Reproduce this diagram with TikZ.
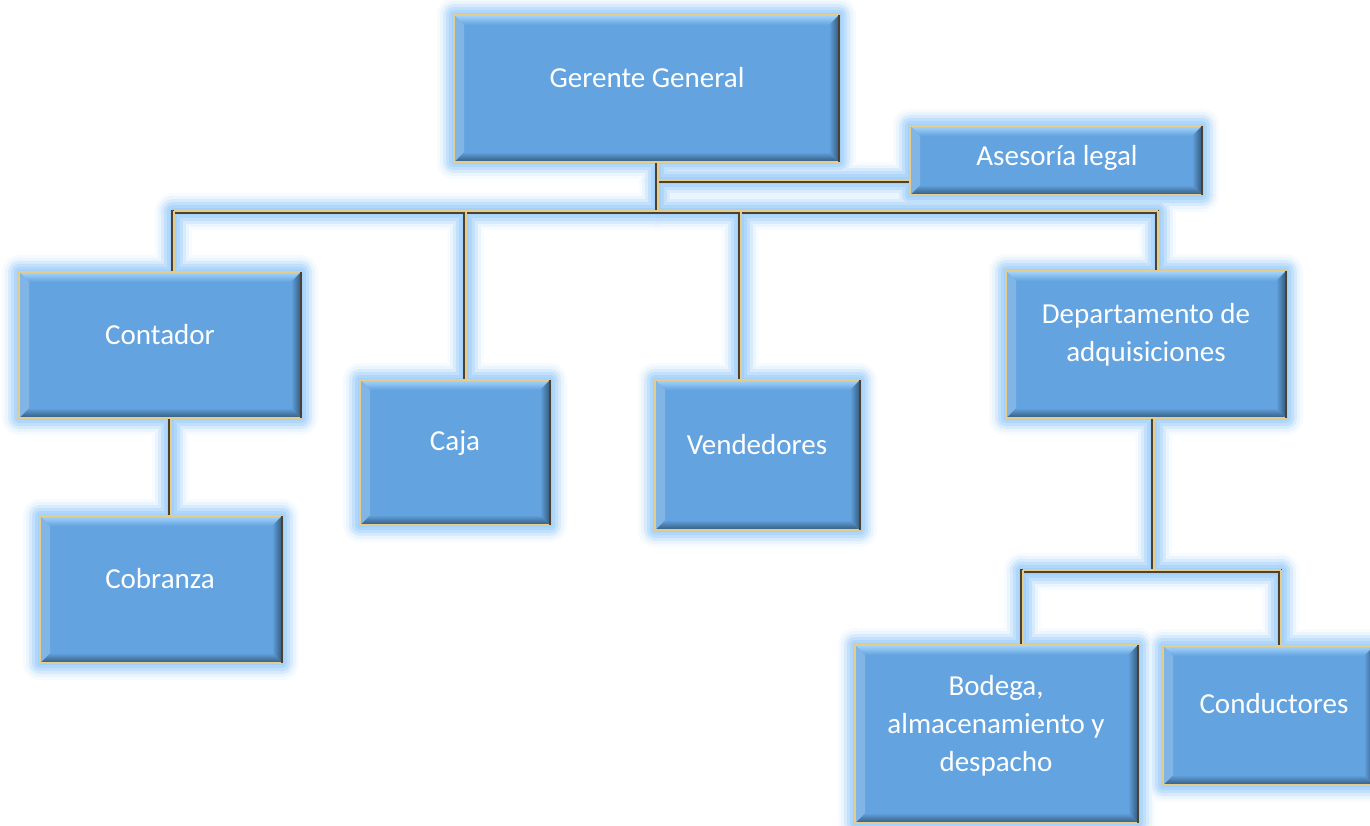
\documentclass[tikz,border=0pt]{standalone}
\usepackage{fontspec}
\setmainfont{Carlito}
\usetikzlibrary{calc}
\definecolor{boxblue}{HTML}{62A3E0}
\definecolor{bevlight}{HTML}{A6D6FC}
\definecolor{bevdark}{HTML}{34597C}
\definecolor{glowblue}{HTML}{A2D0FA}
\definecolor{goldline}{HTML}{E4CD8C}
\definecolor{brownline}{HTML}{4D4130}

\tikzset{
  boxshape/.style={rectangle, inner sep=0pt, outer sep=0pt, draw=none},
  txt/.style={text=white, font=\fontsize{29}{38}\selectfont, align=center, inner sep=0pt}
}

\newcommand\mkbox[5]{%
  \pgfmathsetmacro\bw{#4-#2}\pgfmathsetmacro\bh{#5-#3}%
  \node[boxshape, minimum width=\bw pt, minimum height=\bh pt] (#1) at ({(#2+#4)/2},{(#3+#5)/2}) {};}

\newcommand\decobox[1]{%
  \fill[boxblue] (#1.north west) rectangle (#1.south east);
  \shade[top color=bevlight, bottom color=boxblue] (#1.north west) -- (#1.north east) -- ($(#1.north east)+(-10,10)$) -- ($(#1.north west)+(10,10)$) -- cycle;
  \shade[left color=boxblue, right color=bevdark] (#1.north east) -- (#1.south east) -- ($(#1.south east)+(-10,-10)$) -- ($(#1.north east)+(-10,10)$) -- cycle;
  \shade[top color=boxblue, bottom color=bevdark] (#1.south west) -- ($(#1.south west)+(10,-10)$) -- ($(#1.south east)+(-10,-10)$) -- (#1.south east) -- cycle;
  \fill[boxblue!80!white] (#1.north west) -- ($(#1.north west)+(10,10)$) -- ($(#1.south west)+(10,-10)$) -- (#1.south west) -- cycle;
  \draw[goldline, line width=1.6pt] (#1.north west) rectangle (#1.south east);
  \draw[brownline, line width=1.4pt] (#1.north east) -- (#1.south east);
}

\newcommand\connpaths[1]{%
  \draw[#1] (top) -- (bus);
  \draw[#1] (alc) -- (alc -| top);
  \draw[#1] (busL) -- (busR);
  \draw[#1] (busL) -- (busL |- cont.north);
  \draw[#1] (cajaN) -- (cajaN |- bus);
  \draw[#1] (vendN) -- (vendN |- bus);
  \draw[#1] (busR) -- (busR |- dept.north);
  \draw[#1] (contS) -- (contS |- cob.north);
  \draw[#1] (deptS) -- (bus2);
  \draw[#1] (bus2L) -- (bus2R);
  \draw[#1] (bus2L) -- (bus2L |- bod.north);
  \draw[#1] (bus2R) -- (bus2R |- cond.north);
}

\begin{document}
\begin{tikzpicture}[x=1pt,y=-1pt]
\useasboundingbox (0,0) rectangle (1370,826);
\clip (0,0) rectangle (1370,826);
\fill[white] (0,0) rectangle (1370,826);

% box frames
\mkbox{gg}{454}{15}{839}{162}
\mkbox{al}{910}{126}{1202}{195}
\mkbox{cont}{19}{272}{301}{418}
\mkbox{cob}{40}{516}{282}{663}
\mkbox{caja}{360}{380}{550}{525}
\mkbox{vend}{655}{380}{860}{530}
\mkbox{dept}{1006}{271}{1286}{418}
\mkbox{bod}{855}{645}{1138}{823}
\mkbox{cond}{1163}{646}{1374}{785}

% connector anchor points
\coordinate (top) at ([xshift=10.5pt]gg.south);
\coordinate (bus) at (top |- 0,212);
\coordinate (alc) at ([yshift=-20.5pt]al.west);
\coordinate (contN) at ([xshift=13pt]cont.north);
\coordinate (busL) at (contN |- bus);
\coordinate (deptN) at ([xshift=11pt]dept.north);
\coordinate (busR) at (deptN |- bus);
\coordinate (cajaN) at ([xshift=10pt]caja.north);
\coordinate (vendN) at ([xshift=-17.5pt]vend.north);
\coordinate (contS) at ([xshift=10pt]cont.south);
\coordinate (deptS) at ([xshift=7pt]dept.south);
\coordinate (bus2) at (deptS |- 0,571);
\coordinate (bodN) at ([xshift=25.5pt]bod.north);
\coordinate (condN) at ([xshift=11.5pt]cond.north);
\coordinate (bus2L) at (bodN |- bus2);
\coordinate (bus2R) at (condN |- bus2);

% glow passes
\foreach \d/\c in {17/8, 14/22, 11/42, 8/66, 5/86, 2/100}{
  \pgfmathsetmacro\lw{2*\d+3}
  \foreach \n in {gg,al,cont,cob,caja,vend,dept,bod,cond}
    \fill[glowblue!\c!white, rounded corners=\d pt] ([shift={(-\d,-\d)}]\n.north west) rectangle ([shift={(\d,\d)}]\n.south east);
  \connpaths{draw=glowblue!\c!white, line width=\lw pt, line cap=round}
}

% connectors
\connpaths{draw=brownline, line width=3.6pt, line cap=rect}
\begin{scope}[transform canvas={shift={(0.8pt,0.8pt)}}]
\connpaths{draw=goldline, line width=1.6pt, line cap=butt}
\end{scope}

% boxes
\foreach \n in {gg,al,cont,cob,caja,vend,dept,bod,cond}{\decobox{\n}}

% texts
\node[txt] (gg-t) at (647,78) {Gerente General};
\node[txt] (al-t) at (1057,158) {Asesoría legal};
\node[txt] (cont-t) at (160,335) {Contador};
\node[txt] (cob-t) at (160,579) {Cobranza};
\node[txt] (caja-t) at (455,443) {Caja};
\node[txt] (vend-t) at (757,445) {Vendedores};
\node[txt] (dept-t) at (1146,335) {Departamento de\\adquisiciones};
\node[txt] (bod-t) at (996,726) {Bodega,\\almacenamiento y\\despacho};
\node[txt] (cond-t) at (1274,704) {Conductores};
\end{tikzpicture}
\end{document}
